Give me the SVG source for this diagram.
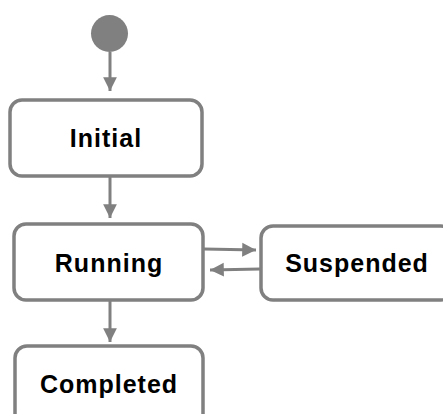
<svg xmlns="http://www.w3.org/2000/svg" width="443" height="414" viewBox="0 0 443 414">
<defs>
<marker id="arr" viewBox="0 0 10 10" refX="10" refY="5" markerWidth="4.6" markerHeight="5" orient="auto" markerUnits="strokeWidth">
<path d="M0,0 L10,5 L0,10 z" fill="#808080"/>
</marker>
<style>
.box{fill:#fff;stroke:#808080;stroke-width:3.5}
.lbl{font-family:"Liberation Sans",Arial,sans-serif;font-weight:bold;font-size:25px;letter-spacing:1px;fill:#000;text-anchor:middle}
.edge{stroke:#808080;stroke-width:3;fill:none;marker-end:url(#arr)}
</style>
</defs>
<rect width="443" height="414" fill="#fff"/>
<g id="connectors">
<line class="edge" x1="110" y1="52" x2="110" y2="91"/>
<line class="edge" x1="110" y1="177" x2="110" y2="218"/>
<line class="edge" x1="204" y1="249" x2="256" y2="250"/>
<line class="edge" x1="260" y1="269" x2="210" y2="270"/>
<line class="edge" x1="110" y1="301" x2="110" y2="342"/>
</g>
<g id="start"><circle cx="109.5" cy="33.5" r="18.5" fill="#808080"/></g>
<g id="initial"><rect class="box" x="10" y="100" width="192" height="76" rx="12"/><text class="lbl" x="106" y="147">Initial</text></g>
<g id="running"><rect class="box" x="14" y="224" width="189" height="76" rx="12"/><text class="lbl" x="109" y="272">Running</text></g>
<g id="suspended"><rect class="box" x="261" y="226" width="192" height="74" rx="12"/><text class="lbl" x="357" y="272">Suspended</text></g>
<g id="completed"><rect class="box" x="15" y="346" width="188" height="80" rx="12"/><text class="lbl" x="109" y="393">Completed</text></g>
</svg>
